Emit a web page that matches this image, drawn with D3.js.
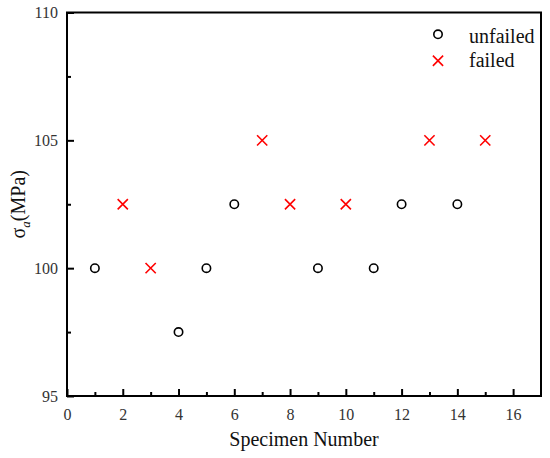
<!DOCTYPE html>
<html><head><meta charset="utf-8">
<script src="https://cdn.jsdelivr.net/npm/d3@7"></script>
<style>body{margin:0;background:#fff}svg{display:block}text{font-family:"Liberation Serif","Times New Roman",Tinos,"DejaVu Serif",serif !important}</style>
</head><body><svg id="c" width="550" height="458"></svg>
<script>
const unfailedX = [1, 4, 5, 6, 9, 11, 12, 14];
const unfailedY = [100, 97.5, 100, 102.5, 100, 100, 102.5, 102.5];
const failedX = [2, 3, 7, 8, 10, 13, 15];
const failedY = [102.5, 100, 105, 102.5, 102.5, 105, 105];
const xTicks = [0, 2, 4, 6, 8, 10, 12, 14, 16];
const xMinor = [1, 3, 5, 7, 9, 11, 13, 15];
const yTicks = [95, 100, 105, 110];
const yMinor = [97.5, 102.5, 107.5];

const svg = d3.select("#c");
const L = 67, R = 541, T = 12.5, B = 396;
const x = d3.scaleLinear().domain([0, 17]).range([L, R]);
const y = d3.scaleLinear().domain([95, 110]).range([B, T]);

const gx = svg.append("g").attr("transform", `translate(0,${B})`)
  .call(d3.axisBottom(x).tickValues(xTicks).tickSizeInner(-7).tickSizeOuter(0).tickPadding(13));
const gxm = svg.append("g").attr("transform", `translate(0,${B})`)
  .call(d3.axisBottom(x).tickValues(xMinor).tickSizeInner(-4).tickSizeOuter(0).tickFormat(""));
const gy = svg.append("g").attr("transform", `translate(${L},0)`)
  .call(d3.axisLeft(y).tickValues(yTicks).tickSizeInner(-7).tickSizeOuter(0).tickPadding(9));
const gym = svg.append("g").attr("transform", `translate(${L},0)`)
  .call(d3.axisLeft(y).tickValues(yMinor).tickSizeInner(-4).tickSizeOuter(0).tickFormat(""));
[gx, gxm, gy, gym].forEach(g => {
  g.attr("font-family", null);
  g.select(".domain").remove();
  g.selectAll(".tick line").attr("stroke", "#000").attr("stroke-width", 2);
  g.selectAll(".tick text").attr("fill", "#333").style("font-size", "16px");
});
gx.selectAll(".tick text").attr("dy", "0.71em");

svg.append("rect").attr("x", L).attr("y", T).attr("width", R - L).attr("height", B - T)
  .attr("fill", "none").attr("stroke", "#000").attr("stroke-width", 2);

svg.append("g").selectAll("circle").data(unfailedX.map((d, i) => [d, unfailedY[i]])).join("circle")
  .attr("cx", d => x(d[0])).attr("cy", d => y(d[1])).attr("r", 4.2)
  .attr("fill", "none").attr("stroke", "#000").attr("stroke-width", 1.6);
const cross = d3.symbol().type(d3.symbolX).size(70);
svg.append("g").selectAll("path").data(failedX.map((d, i) => [d, failedY[i]])).join("path")
  .attr("d", cross).attr("transform", d => `translate(${x(d[0])},${y(d[1])})`)
  .attr("fill", "none").attr("stroke", "#ff0000").attr("stroke-width", 1.6);

svg.append("circle").attr("cx", 438).attr("cy", 34.3).attr("r", 4.2)
  .attr("fill", "none").attr("stroke", "#000").attr("stroke-width", 1.6);
svg.append("path").attr("d", cross).attr("transform", "translate(438,60.7)")
  .attr("fill", "none").attr("stroke", "#ff0000").attr("stroke-width", 1.6);
svg.append("text").attr("x", 469).attr("y", 43).style("font-size", "20px").attr("fill", "#111").text("unfailed");
svg.append("text").attr("x", 469).attr("y", 67).style("font-size", "20px").attr("fill", "#111").text("failed");

svg.append("text").attr("x", (L + R) / 2).attr("y", 446).attr("text-anchor", "middle")
  .style("font-size", "20px").attr("fill", "#111").text("Specimen Number");
const yt = svg.append("text").attr("transform", `translate(25,${(T + B) / 2}) rotate(-90)`)
  .attr("text-anchor", "middle").style("font-size", "20px").attr("fill", "#111");
yt.append("tspan").text("σ");
yt.append("tspan").attr("dy", 5).style("font-size", "13px").style("font-style", "italic").text("a");
yt.append("tspan").attr("dy", -5).text("(MPa)");
</script></body></html>
